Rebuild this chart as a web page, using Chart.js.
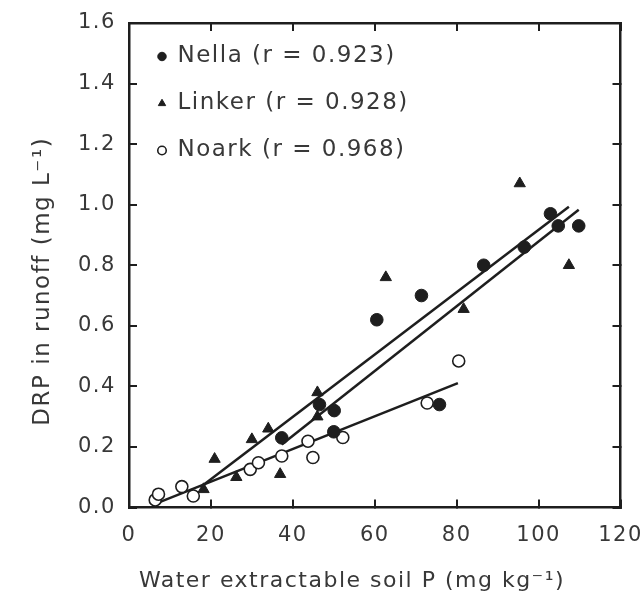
<!DOCTYPE html>
<html>
<head>
<meta charset="utf-8">
<title>DRP in runoff vs water extractable soil P</title>
<script src="https://cdn.jsdelivr.net/npm/chart.js@4.4.1/dist/chart.umd.min.js"></script>
<style>
  html, body { margin: 0; padding: 0; background: #fff; }
  #wrap { width: 643px; height: 596px; }
</style>
</head>
<body>
<div id="wrap"><canvas id="chart" width="643" height="596"></canvas></div>
<script>
// values
const nellaX = [37.3, 46.5, 50.0, 50.1, 60.5, 71.4, 75.8, 86.6, 96.5, 102.9, 104.8, 109.8];
const nellaY = [0.23, 0.34, 0.25, 0.32, 0.62, 0.70, 0.34, 0.80, 0.86, 0.97, 0.93, 0.93];

const linkerX = [18.2, 20.9, 26.2, 30.0, 34.0, 36.9, 46.0, 46.0, 62.7, 81.7, 95.4, 107.4];
const linkerY = [0.06, 0.16, 0.10, 0.225, 0.26, 0.11, 0.38, 0.30, 0.76, 0.655, 1.07, 0.80];

const noarkX = [6.4, 7.2, 12.9, 15.7, 29.6, 31.6, 37.3, 43.7, 44.9, 52.2, 72.8, 80.5];
const noarkY = [0.025, 0.044, 0.069, 0.038, 0.126, 0.148, 0.170, 0.219, 0.165, 0.231, 0.345, 0.484];

// regression line end points
const nellaFitX = [37.3, 109.8];
const nellaFitY = [0.208, 0.983];
const linkerFitX = [17.5, 107.4];
const linkerFitY = [0.068, 0.993];
const noarkFitX = [6.4, 80.3];
const noarkFitY = [0.012, 0.411];

const seriesNames = ["Nella (r = 0.923)", "Linker (r = 0.928)", "Noark (r = 0.968)"];

const xTicks = [0, 20, 40, 60, 80, 100, 120];
const yTicks = [0, 0.2, 0.4, 0.6, 0.8, 1.0, 1.2, 1.4, 1.6];
const yTickLabels = ["0.0", "0.2", "0.4", "0.6", "0.8", "1.0", "1.2", "1.4", "1.6"];

const xTitle = "Water extractable soil P (mg kg\u207B\u00B9)";
const yTitle = "DRP in runoff (mg L\u207B\u00B9)";

// styling
const FONT = '"DejaVu Sans", sans-serif';
const INK = "#1e1e1e";
const TEXT = "#383838";

const pts = (xs, ys) => xs.map((x, i) => ({ x: x, y: ys[i] }));

// wide letter spacing like the original typeface, legend sits inside the frame
const spacing = {
  id: "spacing",
  beforeLayout(chart) { chart.ctx.letterSpacing = "1.5px"; },
  beforeDraw(chart) { chart.ctx.letterSpacing = "1.5px"; },
  afterLayout(chart) {
    if (chart.legend) {
      chart.legend.top = chart.chartArea.top - 2;
      chart.legend.left = chart.chartArea.left + 5;
    }
  }
};

const axisTitles = {
  id: "axisTitles",
  afterDraw(chart) {
    const { ctx, chartArea: a } = chart;
    ctx.save();
    ctx.letterSpacing = "1.5px";
    ctx.fillStyle = TEXT;
    ctx.textAlign = "center";
    ctx.textBaseline = "middle";
    ctx.font = "22px " + FONT;
    ctx.fillText(xTitle, a.left + 223, 581);
    ctx.translate(43, (a.top + a.bottom) / 2 + 16);
    ctx.rotate(-Math.PI / 2);
    ctx.font = "23px " + FONT;
    ctx.fillText(yTitle, 0, 0);
    ctx.restore();
  }
};

const frame = { display: true, width: 2.5, color: INK };
const inward = {
  display: true, drawOnChartArea: false, drawTicks: true,
  tickLength: -8, tickWidth: 2, tickColor: INK, color: INK, lineWidth: 2
};

const fitLine = (label, xs, ys) => ({
  label: label,
  data: pts(xs, ys),
  showLine: true,
  pointRadius: 0,
  borderColor: INK,
  borderWidth: 2.5,
  fill: false,
  order: 1
});

const chart = new Chart(document.getElementById("chart"), {
  type: "scatter",
  data: {
    datasets: [
      {
        label: seriesNames[0], data: pts(nellaX, nellaY),
        pointStyle: "circle", pointRadius: 6.3,
        backgroundColor: INK, borderColor: INK, pointBorderWidth: 1, order: 0
      },
      {
        label: seriesNames[1], data: pts(linkerX, linkerY),
        pointStyle: "triangle", pointRadius: 6.5,
        backgroundColor: INK, borderColor: INK, pointBorderWidth: 1, order: 0
      },
      {
        label: seriesNames[2], data: pts(noarkX, noarkY),
        pointStyle: "circle", pointRadius: 6,
        backgroundColor: "#fff", borderColor: INK, pointBorderWidth: 1.6, order: 0
      },
      fitLine("Nella fit", nellaFitX, nellaFitY),
      fitLine("Linker fit", linkerFitX, linkerFitY),
      fitLine("Noark fit", noarkFitX, noarkFitY)
    ]
  },
  options: {
    responsive: false,
    animation: false,
    devicePixelRatio: 1,
    events: [],
    layout: { padding: { left: 78, top: 23, right: 22.5, bottom: 0 } },
    plugins: {
      tooltip: { enabled: false },
      legend: {
        position: "chartArea",
        align: "start",
        labels: {
          usePointStyle: true,
          boxWidth: 8,
          boxHeight: 6,
          padding: 24,
          color: TEXT,
          font: { family: FONT, size: 23 },
          filter: (item) => item.datasetIndex < 3
        }
      }
    },
    scales: {
      x: {
        type: "linear", position: "bottom", min: 0, max: 120,
        afterBuildTicks: (s) => { s.ticks = xTicks.map((v) => ({ value: v })); },
        afterFit: (s) => { s.height = 88.5; },
        // tall line height pushes the labels below the inward tick marks
        ticks: { font: { family: FONT, size: 21, lineHeight: "72px" }, color: TEXT, padding: 0,
                 maxRotation: 0, autoSkip: false, callback: (v) => String(v) },
        grid: inward, border: frame
      },
      x2: {
        type: "linear", position: "top", min: 0, max: 120,
        afterBuildTicks: (s) => { s.ticks = xTicks.map((v) => ({ value: v })); },
        afterFit: (s) => { s.height = 0; },
        ticks: { display: false },
        grid: inward, border: frame
      },
      y: {
        type: "linear", position: "left", min: 0, max: 1.6,
        afterBuildTicks: (s) => { s.ticks = yTicks.map((v) => ({ value: v })); },
        afterFit: (s) => { s.width = 51; },
        ticks: { font: { family: FONT, size: 21 }, color: TEXT, padding: 0, crossAlign: "far",
                 autoSkip: false, callback: (v, i) => yTickLabels[i] },
        grid: inward, border: frame
      },
      y2: {
        type: "linear", position: "right", min: 0, max: 1.6,
        afterBuildTicks: (s) => { s.ticks = yTicks.map((v) => ({ value: v })); },
        afterFit: (s) => { s.width = 0; },
        ticks: { display: false },
        grid: inward, border: frame
      }
    }
  },
  plugins: [spacing, axisTitles]
});
</script>
</body>
</html>
